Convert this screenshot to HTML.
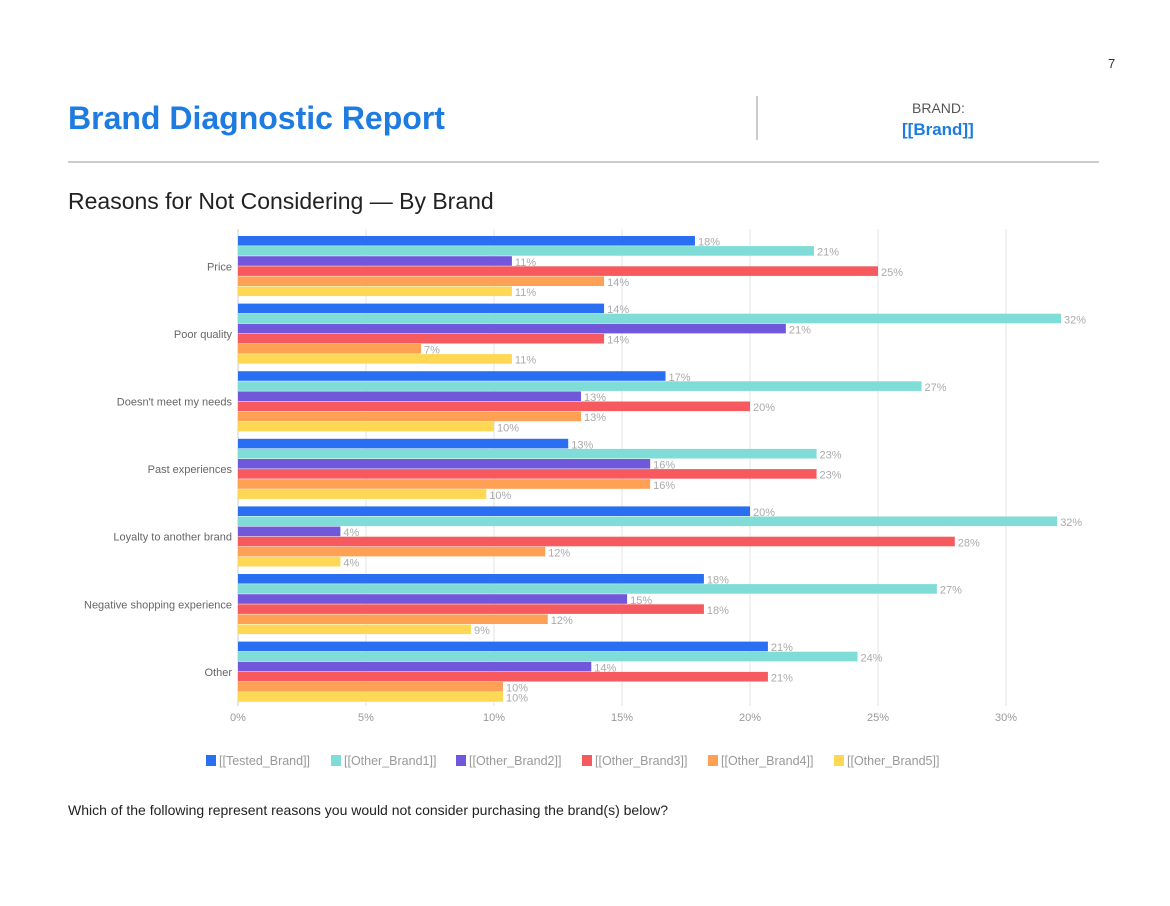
<!DOCTYPE html>
<html><head><meta charset="utf-8"><style>
body{margin:0;width:1170px;height:906px;background:#fff;font-family:"Liberation Sans",sans-serif;position:relative;overflow:hidden}
.a{position:absolute;white-space:nowrap}
</style></head><body>
<div class="a" style="left:1108px;top:56px;font-size:13px;color:#333">7</div>
<div class="a" style="left:68px;top:100px;font-size:32px;font-weight:bold;color:#1e7be0">Brand Diagnostic Report</div>
<div class="a" style="left:756px;top:96px;width:2px;height:44px;background:#ccc"></div>
<div class="a" style="left:912px;top:100px;font-size:14px;color:#555">BRAND:</div>
<div class="a" style="left:902px;top:120px;font-size:17px;font-weight:bold;color:#1e7be0">[[Brand]]</div>
<div class="a" style="left:68px;top:161px;width:1031px;height:2px;background:#ccc"></div>
<div class="a" style="left:68px;top:188px;font-size:23px;color:#222">Reasons for Not Considering — By Brand</div>
<svg class="a" style="left:0;top:0" width="1170" height="906" id="chart"></svg>
<div class="a" style="left:68px;top:802px;font-size:14px;color:#222">Which of the following represent reasons you would not consider purchasing the brand(s) below?</div>
<script>
const categories=["Price","Poor quality","Doesn't meet my needs","Past experiences","Loyalty to another brand","Negative shopping experience","Other"];
const seriesNames=["[[Tested_Brand]]","[[Other_Brand1]]","[[Other_Brand2]]","[[Other_Brand3]]","[[Other_Brand4]]","[[Other_Brand5]]"];
const tested=[17.85,14.3,16.7,12.9,20,18.2,20.7];
const other1=[22.5,32.15,26.7,22.6,32,27.3,24.2];
const other2=[10.7,21.4,13.4,16.1,4,15.2,13.8];
const other3=[25,14.3,20,22.6,28,18.2,20.7];
const other4=[14.3,7.15,13.4,16.1,12,12.1,10.35];
const other5=[10.7,10.7,10,9.7,4,9.1,10.35];
const testedLabels=["18%","14%","17%","13%","20%","18%","21%"];
const other1Labels=["21%","32%","27%","23%","32%","27%","24%"];
const other2Labels=["11%","21%","13%","16%","4%","15%","14%"];
const other3Labels=["25%","14%","20%","23%","28%","18%","21%"];
const other4Labels=["14%","7%","13%","16%","12%","12%","10%"];
const other5Labels=["11%","11%","10%","10%","4%","9%","10%"];
const ticks=[0,5,10,15,20,25,30];
const colors=["#2a6ff2","#7fdcd6","#7158da","#f65a5e","#fea154","#fed854"];
const series=[tested,other1,other2,other3,other4,other5];
const labels=[testedLabels,other1Labels,other2Labels,other3Labels,other4Labels,other5Labels];
const svg=document.getElementById('chart');
const NS='http://www.w3.org/2000/svg';
const x0=238,pxPer=25.6,top0=231,groupH=67.6,barH=10.1;
const xs=v=>x0+v*pxPer;
function mk(t,a){const e=document.createElementNS(NS,t);for(const k in a)e.setAttribute(k,a[k]);svg.appendChild(e);return e;}
ticks.forEach(t=>{
 const g=mk('line',{x1:xs(t),x2:xs(t),y1:229,y2:706,stroke:t===0?'#ccc':'#e3e3e3','stroke-width':1});
 
 
 const l=mk('text',{x:xs(t),y:721,'text-anchor':'middle','font-size':11,fill:'#999','font-family':'Liberation Sans'});
 l.textContent=t+'%';
 
 
});
categories.forEach((c,i)=>{
 const gy=top0+5+i*groupH;
 const t=mk('text',{x:232,y:gy+barH*3+4,'text-anchor':'end','font-size':11,fill:'#666','font-family':'Liberation Sans'});
 t.textContent=c;
 
 
 series.forEach((s,j)=>{
  const y=gy+j*barH;
  const r=mk('rect',{x:x0,y:y,width:xs(s[i])-x0,height:barH-0.5,fill:colors[j]});
  
  
  const v=mk('text',{x:xs(s[i])+3,y:y+barH-0.5,'font-size':11,fill:'#aaa','font-family':'Liberation Sans'});
  v.textContent=labels[j][i];
  
  
 });
});
const legendX=[206,331,456,582,708,834];
seriesNames.forEach((n,j)=>{
 const r=mk('rect',{x:legendX[j],y:755,width:10,height:11,fill:colors[j]});
 
 
 const t=mk('text',{x:legendX[j]+13,y:765,'font-size':12.5,fill:'#999','font-family':'Liberation Sans'});
 t.textContent=n;
 
 
});
</script>
</body></html>
